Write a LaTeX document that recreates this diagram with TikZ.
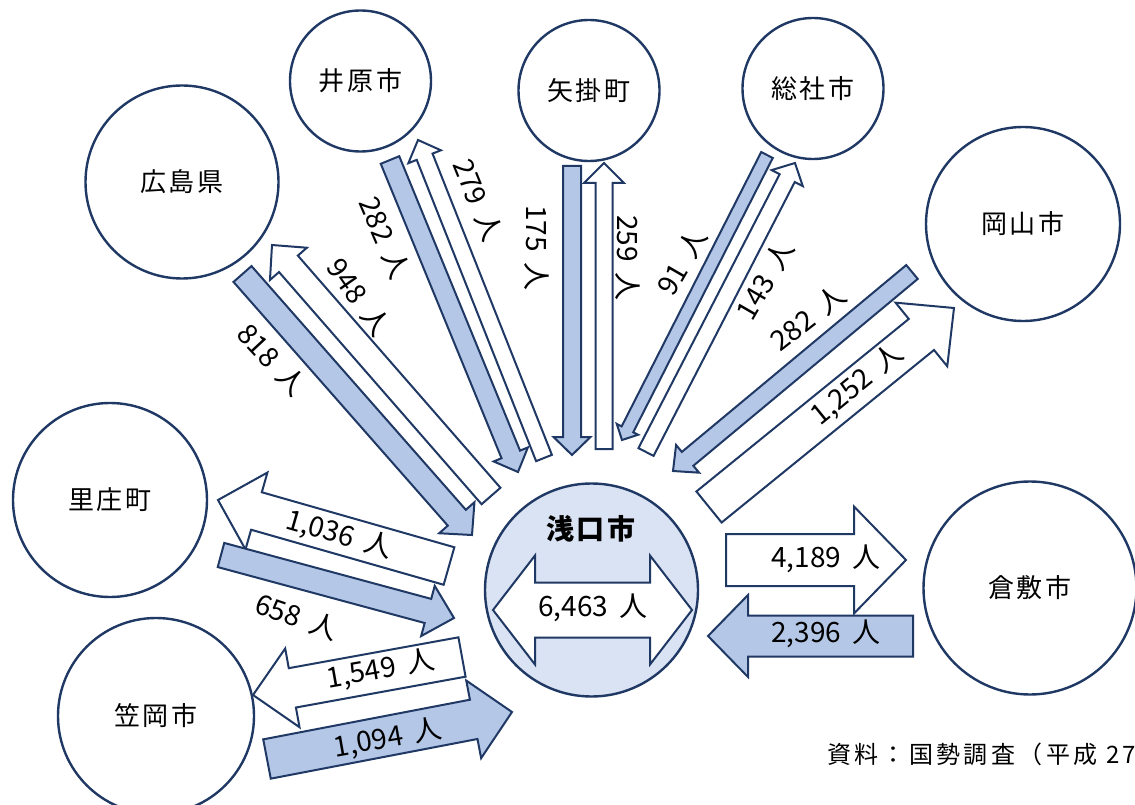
\documentclass[tikz,border=0pt]{standalone}
\usepackage{fontspec}
\setmainfont{Noto Sans CJK JP}
\newfontfamily\namefont[LetterSpace=10]{Noto Sans CJK JP}
\newfontfamily\numfont[WordSpace=1.8]{Noto Sans CJK JP}
\newfontfamily\capfont[LetterSpace=14]{Noto Sans CJK JP}
\usetikzlibrary{calc}

\definecolor{navy}{HTML}{1F3864}
\definecolor{flowblue}{HTML}{B4C7E7}
\definecolor{paleblue}{HTML}{DAE3F3}

% block arrow: [style]{tail}{tip}{shaft width}{head width}{head length}
\newcommand{\flowarrow}[6][]{%
  \coordinate (#2-#3-b) at ($(#3)!#6!(#2)$);
  \draw[#1] ($(#2)!#4/2!90:(#3)$)
    -- ($(#2-#3-b)!#4/2!90:(#3)$)
    -- ($(#2-#3-b)!#5/2!90:(#3)$)
    -- (#3)
    -- ($(#2-#3-b)!#5/2!-90:(#3)$)
    -- ($(#2-#3-b)!#4/2!-90:(#3)$)
    -- ($(#2)!#4/2!-90:(#3)$) -- cycle;}

\begin{document}
\begin{tikzpicture}[x=1pt,y=-1pt,
  place/.style={circle, draw=navy, line width=2.4pt, inner sep=0pt,
    font=\namefont\fontsize{26pt}{30pt}\selectfont},
  inflow/.style={draw=navy, fill=flowblue, line width=2pt},
  outflow/.style={draw=navy, fill=white, line width=2pt},
  count/.style={inner sep=0pt, font=\numfont\fontsize{28pt}{30pt}\selectfont}]

  \useasboundingbox (0,0) rectangle (1135,805);

  \node[place, minimum size=193pt] (hiroshima) at (182,182) {広島県};
  \node[place, minimum size=141pt] (ibara) at (360.5,81) {井原市};
  \node[place, minimum size=141pt] (yakage) at (589,90.5) {矢掛町};
  \node[place, minimum size=141pt] (soja) at (813,88.5) {総社市};
  \node[place, minimum size=194pt] (okayama) at (1023,224) {岡山市};
  \node[place, minimum size=194pt] (satosho) at (110,500) {里庄町};
  \node[place, minimum size=196pt] (kasaoka) at (156,716) {笠岡市};
  \node[place, minimum size=213pt] (kurashiki) at (1030,588) {倉敷市};
  \node[place, minimum size=213pt, fill=paleblue] (asakuchi) at (591.5,590) {};

  \coordinate (hiroInS) at (242.5,274);
  \coordinate (hiroInT) at (472,535);
  \coordinate (hiroOutS) at (491,496);
  \coordinate (hiroOutT) at (272,245);
  \coordinate (ibaraInS) at (390,160);
  \coordinate (ibaraInT) at (518,472);
  \coordinate (ibaraOutS) at (544,458);
  \coordinate (ibaraOutT) at (418,140);
  \coordinate (yakageInS) at (572,166);
  \coordinate (yakageInT) at (572,455);
  \coordinate (yakageOutS) at (604,449);
  \coordinate (yakageOutT) at (604,163);
  \coordinate (sojaInS) at (767,155);
  \coordinate (sojaInT) at (622,440);
  \coordinate (sojaOutS) at (646,452);
  \coordinate (sojaOutT) at (795,163);
  \coordinate (okaInS) at (912,272);
  \coordinate (okaInT) at (673,471);
  \coordinate (okaOutS) at (709,507);
  \coordinate (okaOutT) at (954,308);
  \coordinate (satoOutS) at (449,566);
  \coordinate (satoOutT) at (218,500);
  \coordinate (satoInS) at (221,555);
  \coordinate (satoInT) at (454,618);
  \coordinate (kasaOutS) at (462,657);
  \coordinate (kasaOutT) at (253,695);
  \coordinate (kasaInS) at (267,759);
  \coordinate (kasaInT) at (512,712);
  \coordinate (kuraOutS) at (726,560);
  \coordinate (kuraOutT) at (906,560);
  \coordinate (kuraInS) at (913,636);
  \coordinate (kuraInT) at (708,636);
  \coordinate (dblL) at (493,610);
  \coordinate (dblR) at (692,610);

  \flowarrow[inflow]{hiroInS}{hiroInT}{24pt}{47pt}{23pt}
  \flowarrow[outflow]{hiroOutS}{hiroOutT}{25pt}{49pt}{25pt}
  \flowarrow[inflow]{ibaraInS}{ibaraInT}{20pt}{37pt}{19pt}
  \flowarrow[outflow]{ibaraOutS}{ibaraOutT}{17pt}{35pt}{18pt}
  \flowarrow[inflow]{yakageInS}{yakageInT}{18pt}{37pt}{18pt}
  \flowarrow[outflow]{yakageOutS}{yakageOutT}{17pt}{40pt}{20pt}
  \flowarrow[inflow]{sojaInS}{sojaInT}{13pt}{24pt}{12pt}
  \flowarrow[outflow]{sojaOutS}{sojaOutT}{17pt}{35pt}{17pt}
  \flowarrow[inflow]{okaInS}{okaInT}{18pt}{36pt}{19pt}
  \flowarrow[outflow]{okaOutS}{okaOutT}{40pt}{82pt}{42pt}
  \flowarrow[outflow]{satoOutS}{satoOutT}{39pt}{80pt}{40pt}
  \flowarrow[inflow]{satoInS}{satoInT}{25pt}{52pt}{27pt}
  \flowarrow[outflow]{kasaOutS}{kasaOutT}{40pt}{80pt}{40pt}
  \flowarrow[inflow]{kasaInS}{kasaInT}{40pt}{79pt}{39pt}
  \flowarrow[outflow]{kuraOutS}{kuraOutT}{52pt}{107pt}{52pt}
  \flowarrow[inflow]{kuraInS}{kuraInT}{41pt}{82pt}{40pt}

  \draw[outflow] (dblL) -- ($(dblL)+(42,-54.5)$) -- ($(dblL)+(42,-27.5)$)
    -- ($(dblR)+(-42,-27.5)$) -- ($(dblR)+(-42,-54.5)$) -- (dblR)
    -- ($(dblR)+(-42,54.5)$) -- ($(dblR)+(-42,27.5)$)
    -- ($(dblL)+(42,27.5)$) -- ($(dblL)+(42,54.5)$) -- cycle;

  \node[font=\namefont\fontsize{28pt}{30pt}\selectfont\bfseries] (asakuchiLbl) at (591,529) {浅口市};

  \node[count, rotate=-47] (hiroInLbl) at (272,360) {818 人};
  \node[count, rotate=-55] (hiroOutLbl) at (359,297) {948 人};
  \node[count, rotate=-67] (ibaraInLbl) at (385,238) {282 人};
  \node[count, rotate=-68] (ibaraOutLbl) at (478,200) {279 人};
  \node[count, rotate=-90] (yakageInLbl) at (537,248) {175 人};
  \node[count, rotate=-90] (yakageOutLbl) at (628,258) {259 人};
  \node[count, rotate=60] (sojaInLbl) at (682,262) {91 人};
  \node[count, rotate=60] (sojaOutLbl) at (765,280) {143 人};
  \node[count, rotate=38] (okaInLbl) at (808,318) {282 人};
  \node[count, rotate=39] (okaOutLbl) at (857,385) {1,252 人};
  \node[count, rotate=-16] (satoOutLbl) at (339,535) {1,036 人};
  \node[count, rotate=-19] (satoInLbl) at (297,617) {658 人};
  \node[count, rotate=10] (kasaOutLbl) at (381,670) {1,549 人};
  \node[count, rotate=10] (kasaInLbl) at (388,739) {1,094 人};
  \node[count] (kuraOutLbl) at (826,559) {4,189 人};
  \node[count] (kuraInLbl) at (826,634) {2,396 人};
  \node[count] (asaDblLbl) at (593,608) {6,463 人};

  \node[anchor=west, inner sep=0pt, font=\capfont\fontsize{24pt}{28pt}\selectfont] (source) at (827,754) {資料：国勢調査（平成 27};

\end{tikzpicture}
\end{document}
